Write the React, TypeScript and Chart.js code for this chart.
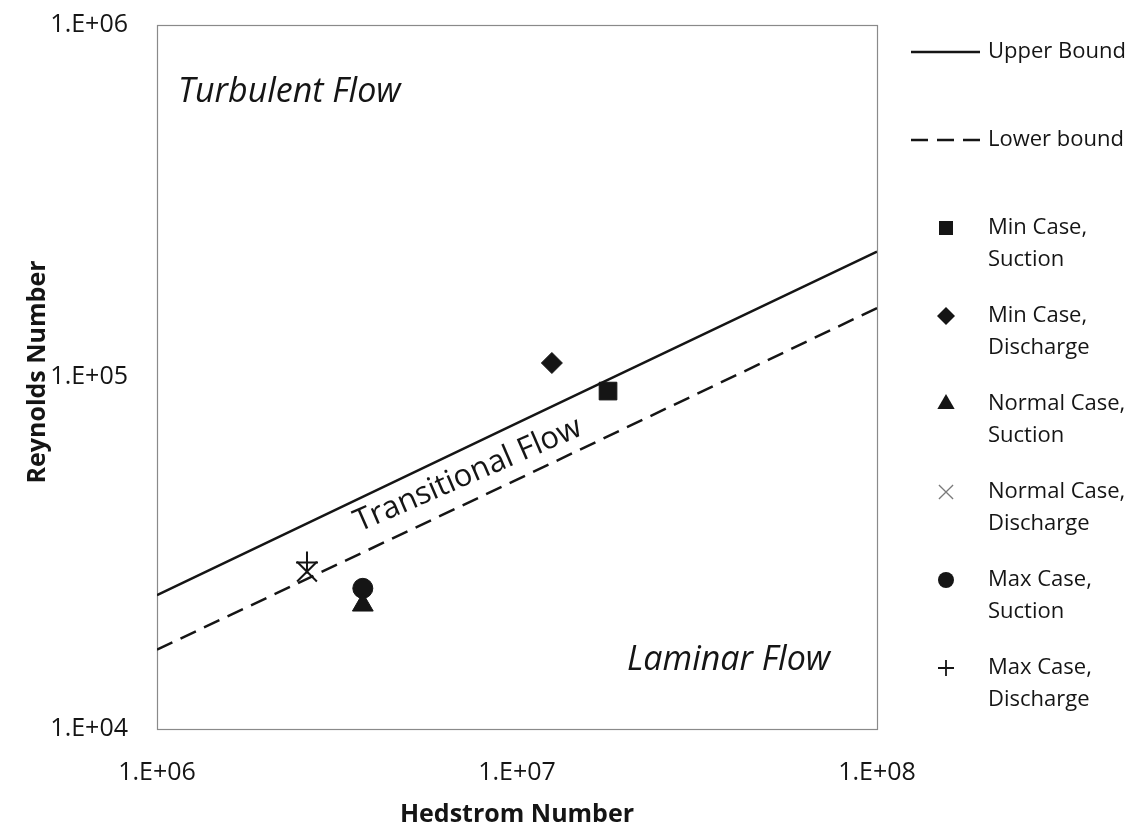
import React, { useEffect, useRef } from 'react';
import { Chart, registerables } from 'chart.js';

Chart.register(...registerables);

// ---- data ----
const xTickValues = [1e6, 1e7, 1e8];
const yTickValues = [1e4, 1e5, 1e6];

const boundHedstrom = [1e6, 1e7, 1e8];
const upperBound = [24000, 74000, 227000];
const lowerBound = [16800, 51100, 157000];

const minSuction = [{ x: 1.79e7, y: 91200 }];
const minDischarge = [{ x: 1.25e7, y: 109600 }];
const normalSuction = [{ x: 3.73e6, y: 22500 }];
const normalDischarge = [{ x: 2.61e6, y: 28000 }];
const maxSuction = [{ x: 3.73e6, y: 25100 }];
const maxDischarge = [{ x: 2.61e6, y: 29700 }];

const seriesLabels = [
  ['Upper Bound'],
  ['Lower bound'],
  ['Min Case,', 'Suction'],
  ['Min Case,', 'Discharge'],
  ['Normal Case,', 'Suction'],
  ['Normal Case,', 'Discharge'],
  ['Max Case,', 'Suction'],
  ['Max Case,', 'Discharge'],
];

const FONT = "'Open Sans', 'DejaVu Sans', sans-serif";
const INK = '#151515';

function fmtTick(v: number) {
  const e = Math.round(Math.log10(v));
  return '1.E+' + (e < 10 ? '0' + e : String(e));
}

function drawMarker(ctx: CanvasRenderingContext2D, style: string, x: number, y: number, r: number, color: string, lw: number) {
  ctx.save();
  ctx.fillStyle = color;
  ctx.strokeStyle = color;
  ctx.lineWidth = lw;
  ctx.beginPath();
  if (style === 'rect') {
    ctx.rect(x - r, y - r, 2 * r, 2 * r);
    ctx.fill();
  } else if (style === 'rectRot') {
    ctx.moveTo(x, y - r);
    ctx.lineTo(x + r, y);
    ctx.lineTo(x, y + r);
    ctx.lineTo(x - r, y);
    ctx.closePath();
    ctx.fill();
  } else if (style === 'triangle') {
    ctx.moveTo(x, y - r);
    ctx.lineTo(x + 0.866 * r, y + 0.5 * r);
    ctx.lineTo(x - 0.866 * r, y + 0.5 * r);
    ctx.closePath();
    ctx.fill();
  } else if (style === 'circle') {
    ctx.arc(x, y, r, 0, Math.PI * 2);
    ctx.fill();
  } else if (style === 'crossRot') {
    const d = r * Math.SQRT1_2;
    ctx.moveTo(x - d, y - d);
    ctx.lineTo(x + d, y + d);
    ctx.moveTo(x + d, y - d);
    ctx.lineTo(x - d, y + d);
    ctx.stroke();
  } else if (style === 'cross') {
    ctx.moveTo(x - r, y);
    ctx.lineTo(x + r, y);
    ctx.moveTo(x, y - r);
    ctx.lineTo(x, y + r);
    ctx.stroke();
  }
  ctx.restore();
}

const decorPlugin = {
  id: 'decor',
  beforeDatasetsDraw(chart: any) {
    const { ctx, chartArea: a } = chart;
    ctx.save();
    ctx.strokeStyle = '#8a8a8a';
    ctx.lineWidth = 1.2;
    ctx.strokeRect(a.left + 0.5, a.top + 0.5, a.right - a.left, a.bottom - a.top);
    ctx.restore();
  },
  afterDraw(chart: any) {
    const { ctx, chartArea: a } = chart;
    ctx.save();
    ctx.fillStyle = INK;

    // axis titles
    ctx.font = `bold 25px ${FONT}`;
    ctx.textAlign = 'center';
    ctx.textBaseline = 'middle';
    ctx.fillText('Hedstrom Number', (a.left + a.right) / 2, 815);
    ctx.save();
    ctx.translate(38, 372);
    ctx.rotate(-Math.PI / 2);
    ctx.fillText('Reynolds Number', 0, 0);
    ctx.restore();

    // region annotations
    ctx.font = `italic 34px ${FONT}`;
    ctx.textAlign = 'left';
    ctx.fillText('Turbulent Flow', a.left + 21, 92);
    ctx.fillText('Laminar Flow', 627, 660);

    ctx.save();
    ctx.translate(468, 475);
    ctx.rotate((-23.5 * Math.PI) / 180);
    ctx.font = `31px ${FONT}`;
    ctx.textAlign = 'center';
    ctx.fillText('Transitional Flow', 0, 0);
    ctx.restore();

    // legend
    const ds = chart.data.datasets;
    ctx.font = `22px ${FONT}`;
    ctx.textAlign = 'left';
    ctx.textBaseline = 'middle';
    const textX = 988;
    const markerX = 946;
    const rows = [52, 140, 228, 316, 404, 492, 580, 668];
    const lineH = 32;
    ds.forEach((d: any, i: number) => {
      const y = rows[i];
      if (d.showLine) {
        ctx.save();
        ctx.strokeStyle = d.borderColor;
        ctx.lineWidth = 2.5;
        ctx.setLineDash(d.borderDash || []);
        ctx.beginPath();
        ctx.moveTo(911, y);
        ctx.lineTo(980, y);
        ctx.stroke();
        ctx.restore();
      } else {
        const legendSize: any = { rect: 7, rectRot: 9, triangle: 10, crossRot: 10, circle: 8, cross: 8 };
        const col = d.pointStyle === 'crossRot' ? '#7a7a7a' : INK;
        const lw = d.pointStyle === 'crossRot' ? 1.3 : 1.8;
        drawMarker(ctx, d.pointStyle, markerX, y, legendSize[d.pointStyle], col, lw);
      }
      ctx.fillStyle = INK;
      (seriesLabels[i] || [d.label]).forEach((t: string, k: number) => {
        ctx.fillText(t, textX, y + k * lineH);
      });
    });
    ctx.restore();
  },
};

const zeroPad = (s: any) => {
  s.paddingTop = 0;
  s.paddingBottom = 0;
  s.paddingLeft = 0;
  s.paddingRight = 0;
};

export default function App() {
  const ref = useRef<HTMLCanvasElement | null>(null);

  useEffect(() => {
    document.body.style.margin = '0';
    const canvas = ref.current;
    if (!canvas) return;

    const pointDs = (label: string, data: any[], style: string, r: number, bw = 1) => ({
      label,
      data,
      showLine: false,
      pointStyle: style,
      pointRadius: r,
      pointHoverRadius: r,
      pointBackgroundColor: INK,
      pointBorderColor: INK,
      pointBorderWidth: bw,
      backgroundColor: INK,
      borderColor: INK,
      order: 0,
    });

    const chart = new Chart(canvas, {
      type: 'scatter',
      data: {
        datasets: [
          {
            label: 'Upper Bound',
            data: boundHedstrom.map((x, i) => ({ x, y: upperBound[i] })),
            showLine: true,
            borderColor: INK,
            borderWidth: 2.5,
            pointRadius: 0,
            pointHoverRadius: 0,
            fill: false,
            order: 5,
          } as any,
          {
            label: 'Lower bound',
            data: boundHedstrom.map((x, i) => ({ x, y: lowerBound[i] })),
            showLine: true,
            borderColor: INK,
            borderWidth: 2.5,
            borderDash: [17, 9],
            pointRadius: 0,
            pointHoverRadius: 0,
            fill: false,
            order: 5,
          } as any,
          pointDs('Min Case, Suction', minSuction, 'rect', 12.5),
          pointDs('Min Case, Discharge', minDischarge, 'rectRot', 10.5),
          pointDs('Normal Case, Suction', normalSuction, 'triangle', 12),
          pointDs('Normal Case, Discharge', normalDischarge, 'crossRot', 14, 2),
          pointDs('Max Case, Suction', maxSuction, 'circle', 10),
          pointDs('Max Case, Discharge', maxDischarge, 'cross', 11, 2),
        ],
      },
      options: {
        responsive: false,
        devicePixelRatio: 1,
        animation: false,
        events: [],
        layout: { padding: { top: 25, right: 262, left: 0, bottom: 0 } },
        plugins: {
          legend: { display: false },
          tooltip: { enabled: false },
          title: { display: false },
        },
        scales: {
          x: {
            type: 'logarithmic',
            min: 1e6,
            max: 1e8,
            grid: { display: false, drawTicks: false },
            border: { display: false },
            ticks: {
              autoSkip: false,
              maxRotation: 0,
              padding: 29,
              color: INK,
              font: { family: FONT, size: 25 },
              callback: (v: any) => fmtTick(Number(v)),
            },
            afterBuildTicks: (s: any) => {
              s.ticks = xTickValues.map((v) => ({ value: v }));
            },
            afterFit: (s: any) => {
              s.height = 111;
              zeroPad(s);
            },
          },
          y: {
            type: 'logarithmic',
            min: 1e4,
            max: 1e6,
            grid: { display: false, drawTicks: false },
            border: { display: false },
            ticks: {
              autoSkip: false,
              padding: 29,
              color: INK,
              font: { family: FONT, size: 25 },
              callback: (v: any) => fmtTick(Number(v)),
            },
            afterBuildTicks: (s: any) => {
              s.ticks = yTickValues.map((v) => ({ value: v }));
            },
            afterFit: (s: any) => {
              s.width = 157;
              zeroPad(s);
            },
          },
        },
      } as any,
      plugins: [decorPlugin],
    });

    return () => chart.destroy();
  }, []);

  return (
    <div style={{ width: 1139, height: 840, background: '#fff' }}>
      <canvas ref={ref} width={1139} height={840} style={{ display: 'block', width: 1139, height: 840 }} />
    </div>
  );
}
